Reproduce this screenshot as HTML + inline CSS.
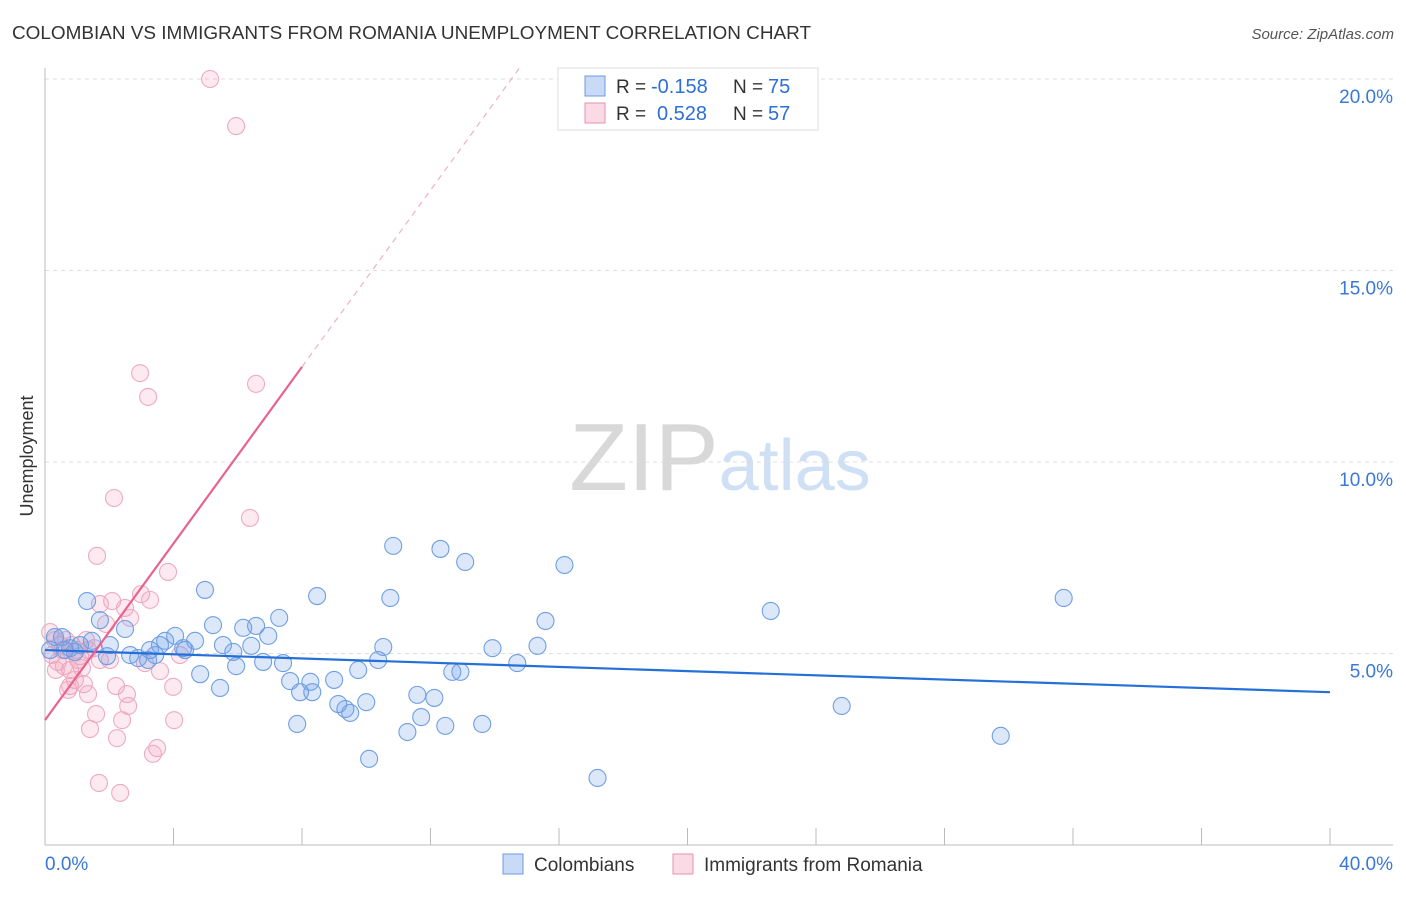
<!DOCTYPE html>
<html><head><meta charset="utf-8"><style>
body{margin:0;background:#fff;font-family:"Liberation Sans",sans-serif}
svg text{font-family:"Liberation Sans",sans-serif}
</style></head><body>
<svg id="chart" width="1406" height="892" xmlns="http://www.w3.org/2000/svg">
<text x="12" y="39" font-size="18" fill="#333" textLength="799" lengthAdjust="spacingAndGlyphs">COLOMBIAN VS IMMIGRANTS FROM ROMANIA UNEMPLOYMENT CORRELATION CHART</text>
<text x="1394" y="39" font-size="15" fill="#555" font-style="italic" text-anchor="end">Source: ZipAtlas.com</text>
<text x="720" y="490" font-size="96" text-anchor="middle" fill="#ddd" font-family="Liberation Serif"><tspan fill="#d8d8d8">ZIP</tspan><tspan fill="#cfe0f5" font-family="Liberation Sans" font-size="72">atlas</tspan></text>
<g id="grid"></g><g id="axes"></g><g id="marks"></g>
<text transform="translate(33,456) rotate(-90)" font-size="18" fill="#333" text-anchor="middle">Unemployment</text>
<g>
<rect x="558" y="68" width="260" height="62" fill="#fff" stroke="#ddd"/>
<rect x="585" y="76" width="20" height="20" fill="rgba(100,150,230,0.35)" stroke="#6a9be0"/>
<rect x="585" y="103" width="20" height="20" fill="rgba(240,150,180,0.35)" stroke="#e890aa"/>
<text x="616" y="93" font-size="19" fill="#333">R =</text><text x="651" y="93" font-size="20" fill="#2d6fd6">-0.158</text>
<text x="733" y="93" font-size="19" fill="#333">N =</text><text x="768" y="93" font-size="20" fill="#2d6fd6">75</text>
<text x="616" y="120" font-size="19" fill="#333">R =</text><text x="657" y="120" font-size="20" fill="#2d6fd6">0.528</text>
<text x="733" y="120" font-size="19" fill="#333">N =</text><text x="768" y="120" font-size="20" fill="#2d6fd6">57</text>
</g>
<g>
<rect x="503" y="854" width="20" height="20" fill="rgba(100,150,230,0.35)" stroke="#6a9be0"/>
<text x="534" y="871" font-size="19" fill="#333">Colombians</text>
<rect x="673" y="854" width="20" height="20" fill="rgba(240,150,180,0.35)" stroke="#e890aa"/>
<text x="704" y="871" font-size="19" fill="#333">Immigrants from Romania</text>
</g>
</svg>
<script>
const blueX=[1.31,1.71,2.49,0.53,1.46,1.09,2.02,2.65,3.27,3.58,3.74,4.05,4.36,4.67,4.98,5.23,5.54,5.86,5.95,6.17,6.57,6.42,6.95,7.29,6.79,7.41,7.63,7.94,7.85,8.26,8.32,8.47,9.00,9.13,9.35,9.50,10.00,9.75,10.09,10.37,10.53,10.75,10.84,11.28,11.59,11.71,12.12,12.31,12.46,12.68,12.93,13.08,13.61,13.93,14.70,15.33,15.58,16.17,17.20,22.59,24.80,29.75,31.71,0.31,0.78,0.93,3.21,3.43,4.30,4.83,5.45,1.93,2.90,0.16,0.62];
const blueY=[6.37,5.87,5.64,5.43,5.33,5.22,5.22,4.96,5.09,5.22,5.33,5.46,5.09,5.33,6.66,5.74,5.22,5.04,4.67,5.67,5.72,5.20,5.46,5.93,4.78,4.75,4.28,3.99,3.16,4.26,3.99,6.50,4.31,3.68,3.55,3.45,3.73,4.57,2.25,4.83,5.17,6.45,7.81,2.95,3.92,3.34,3.84,7.73,3.11,4.52,4.52,7.39,3.16,5.14,4.75,5.20,5.85,7.31,1.75,6.11,3.63,2.85,6.45,5.43,5.14,5.04,4.83,4.96,5.14,4.46,4.10,4.93,4.88,5.09,5.09];
const pinkX=[5.14,5.95,2.96,3.21,6.57,2.15,6.38,1.62,3.83,2.99,2.09,1.71,2.49,2.65,1.90,2.02,1.53,1.34,1.09,1.03,0.78,1.15,0.93,0.78,0.72,1.21,1.34,2.21,2.55,2.59,3.99,1.59,2.40,4.02,1.40,2.24,3.49,3.36,1.68,2.34,3.58,4.20,3.11,0.16,0.31,0.47,0.22,0.40,0.53,0.65,0.84,0.97,1.71,1.28,0.59,0.34,3.27];
const pinkY=[20.0,18.77,12.32,11.70,12.04,9.06,8.54,7.55,7.13,6.55,6.37,6.29,6.19,5.93,5.77,4.83,5.14,5.09,4.93,4.83,4.57,4.62,4.31,4.15,4.05,4.20,3.94,4.15,3.94,3.63,4.13,3.42,3.26,3.26,3.03,2.79,2.53,2.38,1.62,1.36,4.54,4.96,4.75,5.56,5.35,5.22,4.96,4.78,5.09,5.35,5.22,5.09,4.83,5.35,4.67,4.57,6.40];
const blueTrend=[5.09,-0.0275];
const pinkTrend=[3.26,1.153];
const yTicks=[5,10,15,20];
const xTickLabels=["0.0%","40.0%"];
const X=v=>45+v*32.125, Y=v=>845-v*38.3;
const NS="http://www.w3.org/2000/svg";
function mk(p,t,a){const e=document.createElementNS(NS,t);for(const k in a)e.setAttribute(k,a[k]);p.appendChild(e);return e;}
const grid=document.getElementById('grid'),axes=document.getElementById('axes'),marks=document.getElementById('marks');
yTicks.forEach(t=>{
 const l=mk(grid,'line',{x1:45,x2:1393,y1:Y(t),y2:Y(t),stroke:'#ddd','stroke-dasharray':'4,4'});
 
 
 const tx=mk(grid,'text',{x:1393,y:Y(t)+24,'font-size':19,fill:'#3a78d6','text-anchor':'end'});
 tx.textContent=t.toFixed(1)+'%';
 
 
});
mk(axes,'line',{x1:45,x2:45,y1:68,y2:845,stroke:'#bbb'});
mk(axes,'line',{x1:45,x2:1393,y1:845,y2:845,stroke:'#bbb'});
for(let i=0;i<=10;i++){const t=mk(axes,'line',{x1:X(i*4),x2:X(i*4),y1:828,y2:845,stroke:'#bbb'});
 
 }
const xl0=mk(axes,'text',{x:45,y:870,'font-size':19,fill:'#3a78d6','text-anchor':'start'});xl0.textContent=xTickLabels[0];


const xl1=mk(axes,'text',{x:1393,y:870,'font-size':19,fill:'#3a78d6','text-anchor':'end'});xl1.textContent=xTickLabels[1];


pinkX.forEach((x,i)=>{const c=mk(marks,'circle',{cx:X(x),cy:Y(pinkY[i]),r:8.5,fill:'rgba(242,160,188,0.22)',stroke:'#eeaac0','stroke-width':1.1});
 
 });
blueX.forEach((x,i)=>{const c=mk(marks,'circle',{cx:X(x),cy:Y(blueY[i]),r:8.5,fill:'rgba(110,160,235,0.24)',stroke:'#6f9fe2','stroke-width':1.1});
 
 });
const bt=mk(marks,'line',{x1:X(0),y1:Y(blueTrend[0]),x2:X(40),y2:Y(blueTrend[0]+blueTrend[1]*40),stroke:'#2470d8','stroke-width':2.2});


const pt=mk(marks,'line',{x1:X(0),y1:Y(pinkTrend[0]),x2:X(8),y2:Y(pinkTrend[0]+pinkTrend[1]*8),stroke:'#e8638f','stroke-width':2.2});


const xe=(20.3-pinkTrend[0])/pinkTrend[1];
const pd=mk(marks,'line',{x1:X(8),y1:Y(pinkTrend[0]+pinkTrend[1]*8),x2:X(xe),y2:Y(20.3),stroke:'#f0b0c4','stroke-width':1.2,'stroke-dasharray':'6,5'});


</script>
</body></html>
